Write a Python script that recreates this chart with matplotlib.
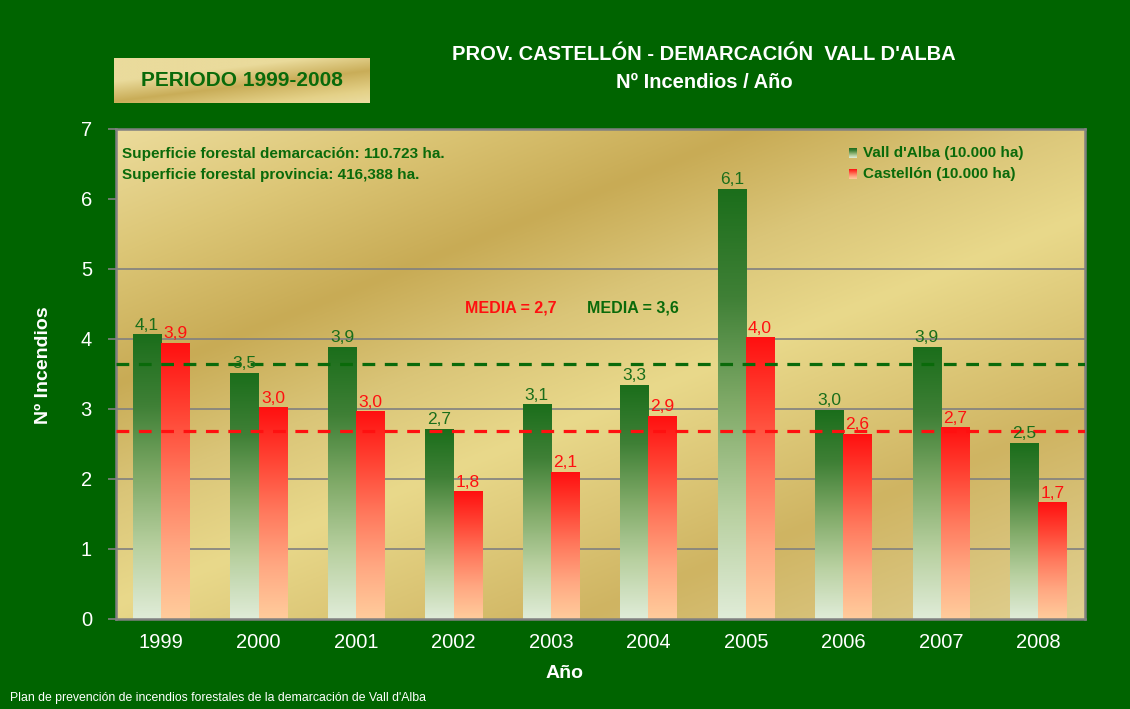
"""
Nº incendios / año - Vall d'Alba vs Castellón, periodo 1999-2008.
"""
import numpy as np
import matplotlib
matplotlib.use('Agg')
import matplotlib.pyplot as plt
from matplotlib.colors import LinearSegmentedColormap, to_rgb

# --- data -------------------------------------------------------------
years = ['1999', '2000', '2001', '2002', '2003', '2004', '2005', '2006', '2007', '2008']
vall_dalba = [4.06, 3.51, 3.88, 2.71, 3.06, 3.34, 6.14, 2.98, 3.88, 2.51]
castellon = [3.94, 3.02, 2.96, 1.82, 2.10, 2.90, 4.02, 2.64, 2.73, 1.66]
media_vall = 3.64
media_cast = 2.68

# --- style ------------------------------------------------------------
W, H = 1130, 709
BG = '#006400'
DARK_GREEN = '#0a6a0a'
RED = '#ff1010'
FONT = ['Liberation Sans', 'DejaVu Sans']

green_cmap = LinearSegmentedColormap.from_list(
    'g', ['#e0ecd8', '#b8d0a0', '#80aa68', '#3f8036', '#1b6e1b'])
red_cmap = LinearSegmentedColormap.from_list(
    'r', ['#ffcc9c', '#ffa882', '#ff7a5e', '#ff4434', '#ff1010'])
grad = np.linspace(0, 1, 256).reshape(-1, 1)


def fx(px):
    return px / W


def fy(py):
    return 1 - py / H


def gold_image(x0, x1, y0, y1, stops_u, stops_c, slope=0.4, n=300):
    xx, yy = np.meshgrid(np.linspace(x0, x1, n), np.linspace(y0, y1, n))
    u = yy + slope * xx
    rgb = np.array([to_rgb(c) for c in stops_c])
    return np.stack([np.interp(u, stops_u, rgb[:, k]) for k in range(3)], axis=-1)


fig = plt.figure(figsize=(W / 100, H / 100), dpi=100)
fig.patch.set_facecolor(BG)

# plot area in pixels
L, R, T, B = 115.5, 1085, 129, 619
pos = [fx(L), fy(B), fx(R) - fx(L), fy(T) - fy(B)]

# golden background behind the plot
bg = fig.add_axes(pos, zorder=0)
bg.axis('off')
bg.imshow(gold_image(L, R, T, B,
                     [175, 300, 430, 540, 650, 850, 1060],
                     ['#ecdc9c', '#dcc676', '#c8ab55', '#dac578', '#e9d98b', '#cfb462', '#e2d294']),
          extent=[0, 1, 0, 1], aspect='auto', origin='upper')

ax = fig.add_axes(pos, zorder=1)
ax.patch.set_alpha(0)

x = np.arange(len(years))
w = 0.29

for i in range(len(years)):
    ax.imshow(grad, extent=[x[i] - w, x[i], 0, vall_dalba[i]], cmap=green_cmap,
              aspect='auto', origin='lower', zorder=2)
    ax.imshow(grad, extent=[x[i], x[i] + w, 0, castellon[i]], cmap=red_cmap,
              aspect='auto', origin='lower', zorder=2)
    ax.annotate(f'{vall_dalba[i]:.1f}'.replace('.', ','), (x[i] - w / 2, vall_dalba[i]),
                xytext=(0, 1.5), textcoords='offset points', ha='center', va='bottom',
                color='#1a6e1a', fontsize=12.5, family=FONT, zorder=5)
    ax.annotate(f'{castellon[i]:.1f}'.replace('.', ','), (x[i] + w / 2, castellon[i]),
                xytext=(0, 1.5), textcoords='offset points', ha='center', va='bottom',
                color=RED, fontsize=12.5, family=FONT, zorder=5)

# mean lines
ax.axhline(media_vall, color=DARK_GREEN, lw=2.3, dashes=(4, 3), zorder=4)
ax.axhline(media_cast, color=RED, lw=2.3, dashes=(4, 3), zorder=4)

for g in range(1, 6):
    ax.axhline(g, color='#808080', lw=1.2, zorder=1)

ax.set_xlim(-0.47, 9.48)
ax.set_ylim(0, 7)
ax.set_xticks(x)
ax.set_xticklabels(years)
ax.set_yticks(range(0, 8))
ax.tick_params(axis='x', length=0, pad=10, colors='white', labelsize=14.5)
ax.tick_params(axis='y', length=6, width=1.2, color='#808080', pad=11,
               labelcolor='white', labelsize=14.5)
for lab in ax.get_xticklabels() + ax.get_yticklabels():
    lab.set_family(FONT)
for sp in ax.spines.values():
    sp.set_color('#808080')
    sp.set_linewidth(1.8)

ax.set_xlabel('Año', color='white', fontsize=14, fontweight='bold', family=FONT)
ax.set_ylabel('Nº Incendios', color='white', fontsize=14, fontweight='bold', family=FONT)
ax.xaxis.set_label_coords((565 - L) / (R - L), -(673 - B) / (B - T))
ax.xaxis.label.set_va('center')
ax.yaxis.set_label_coords(-(L - 43) / (R - L), (B - 365) / (B - T))
ax.yaxis.label.set_va('center')

# texts inside plot
fig.text(fx(122), fy(154), 'Superficie forestal demarcación: 110.723 ha.', color=DARK_GREEN,
         fontsize=11, fontweight='bold', family=FONT, va='center', zorder=5)
fig.text(fx(122), fy(175), 'Superficie forestal provincia: 416,388 ha.', color=DARK_GREEN,
         fontsize=11, fontweight='bold', family=FONT, va='center', zorder=5)
fig.text(fx(511), fy(308), f'MEDIA = {media_cast:.1f}'.replace('.', ','), color=RED,
         fontsize=11.5, fontweight='bold', family=FONT, ha='center', va='center', zorder=5)
fig.text(fx(633), fy(308), f'MEDIA = {media_vall:.1f}'.replace('.', ','), color=DARK_GREEN,
         fontsize=11.5, fontweight='bold', family=FONT, ha='center', va='center', zorder=5)

# legend with small gradient squares
for yc, cmap, label in [(153, green_cmap, "Vall d'Alba (10.000 ha)"),
                        (174, red_cmap, 'Castellón (10.000 ha)')]:
    sq = fig.add_axes([fx(849), fy(yc + 5), 8 / W, 10 / H], zorder=3)
    sq.axis('off')
    sq.imshow(grad, cmap=cmap, aspect='auto', origin='lower', extent=[0, 1, 0, 1])
    fig.text(fx(863), fy(yc), label, color=DARK_GREEN, fontsize=11, fontweight='bold',
             family=FONT, va='center', zorder=5)

# titles
fig.text(fx(704), fy(55), "PROV. CASTELLÓN - DEMARCACIÓN  VALL D'ALBA", color='white',
         fontsize=14.5, fontweight='bold', family=FONT, ha='center', va='center')
fig.text(fx(704), fy(83), 'Nº Incendios / Año', color='white',
         fontsize=14.5, fontweight='bold', family=FONT, ha='center', va='center')

# period box
bx0, bx1, by0, by1 = 114, 370, 58, 103
box = fig.add_axes([fx(bx0), fy(by1), fx(bx1) - fx(bx0), fy(by0) - fy(by1)], zorder=2)
box.axis('off')
box.imshow(gold_image(bx0, bx1, by0, by1, [95, 115, 135, 150],
                      ['#eadb9c', '#c9ad58', '#e4d188', '#ecdfa6'], slope=0.12),
           extent=[0, 1, 0, 1], aspect='auto', origin='upper')
fig.text(fx(242), fy(80), 'PERIODO 1999-2008', color=DARK_GREEN, fontsize=15,
         fontweight='bold', family=FONT, ha='center', va='center', zorder=5)

# footer
fig.text(fx(10), fy(698), "Plan de prevención de incendios forestales de la demarcación de Vall d'Alba",
         color='white', fontsize=8.8, family=FONT, va='center')

fig.savefig('out.png', dpi=100, facecolor=fig.get_facecolor())
plt.close(fig)
